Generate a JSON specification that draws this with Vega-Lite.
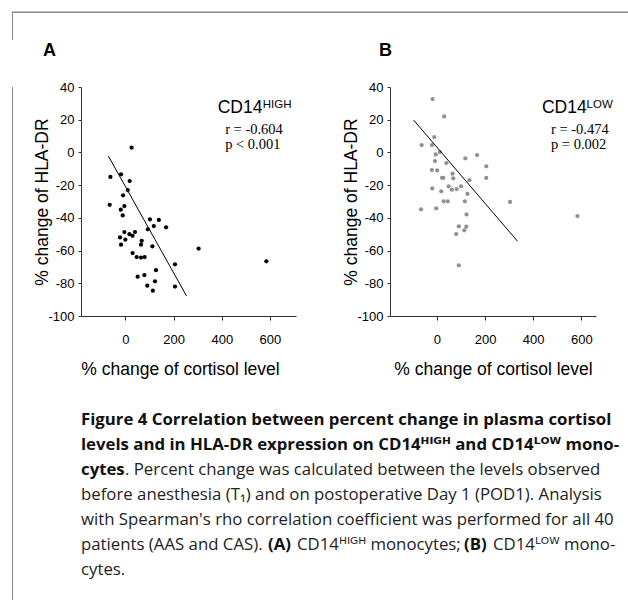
{
  "$schema": "https://vega.github.io/schema/vega-lite/v6.json",
  "background": "white",
  "padding": {"left": 9, "top": 11, "right": 0, "bottom": 0},
  "config": {
    "view": {"stroke": null},
    "font": "Liberation Sans",
    "axis": {
      "grid": false,
      "domainColor": "#333333",
      "tickColor": "#333333",
      "labelColor": "#000000",
      "titleColor": "#000000",
      "labelFont": "Liberation Sans",
      "titleFont": "Liberation Sans",
      "labelFontSize": 13,
      "titleFontSize": 17.5,
      "titleFontWeight": "normal",
      "labelOverlap": false,
      "labelExpr": "'' + datum.value"
    },
    "axisX": {"tickSize": 4, "labelPadding": 13, "titlePadding": 14},
    "axisY": {"tickSize": 3, "labelPadding": 4, "titlePadding": -4, "tickCount": 8, "labelOverlap": false},
    "title": {"font": "Liberation Sans", "fontSize": 18, "fontWeight": "bold", "anchor": "start", "color": "#000000", "offset": 21}
  },
  "datasets": {
    "high": [
      {"cortisol": 26, "hladr": 3}, {"cortisol": -62, "hladr": -15}, {"cortisol": -18, "hladr": -13.4},
      {"cortisol": 18, "hladr": -17.5}, {"cortisol": 10, "hladr": -23}, {"cortisol": -9.5, "hladr": -26.2},
      {"cortisol": -65, "hladr": -32}, {"cortisol": -4, "hladr": -32.8}, {"cortisol": -19, "hladr": -35},
      {"cortisol": -11, "hladr": -38.5}, {"cortisol": 102, "hladr": -41}, {"cortisol": 139, "hladr": -41.3},
      {"cortisol": 118, "hladr": -45}, {"cortisol": 169, "hladr": -45.8}, {"cortisol": 93, "hladr": -47},
      {"cortisol": -4, "hladr": -48.7}, {"cortisol": 40, "hladr": -48.7}, {"cortisol": 17, "hladr": -50},
      {"cortisol": 30, "hladr": -51}, {"cortisol": -22, "hladr": -52}, {"cortisol": 0, "hladr": -53.3},
      {"cortisol": -18, "hladr": -56.4}, {"cortisol": 68, "hladr": -54}, {"cortisol": 65, "hladr": -56.4},
      {"cortisol": 112, "hladr": -57.4}, {"cortisol": 304, "hladr": -58.8}, {"cortisol": 30, "hladr": -61.5},
      {"cortisol": 47, "hladr": -64}, {"cortisol": 65, "hladr": -64.3}, {"cortisol": 80, "hladr": -64},
      {"cortisol": 206, "hladr": -68.4}, {"cortisol": 127, "hladr": -72}, {"cortisol": 585, "hladr": -66.6},
      {"cortisol": 79, "hladr": -75}, {"cortisol": 51, "hladr": -76}, {"cortisol": 123, "hladr": -78.8},
      {"cortisol": 91, "hladr": -81.5}, {"cortisol": 206, "hladr": -82}, {"cortisol": 114, "hladr": -84.5}
    ],
    "low": [
      {"cortisol": -18, "hladr": 32.6}, {"cortisol": 30, "hladr": 22}, {"cortisol": -11, "hladr": 9.4},
      {"cortisol": -63.5, "hladr": 4.5}, {"cortisol": -21, "hladr": 4.5}, {"cortisol": -5, "hladr": -1.2},
      {"cortisol": 12, "hladr": 0.2}, {"cortisol": -8, "hladr": -5.3}, {"cortisol": 39, "hladr": -6.5},
      {"cortisol": 118, "hladr": -3.6}, {"cortisol": 167, "hladr": -1.6}, {"cortisol": 205, "hladr": -8.5},
      {"cortisol": -21, "hladr": -10.8}, {"cortisol": 1, "hladr": -11}, {"cortisol": 65, "hladr": -13},
      {"cortisol": 21, "hladr": -15.5}, {"cortisol": 27, "hladr": -15.5}, {"cortisol": 68, "hladr": -15.8},
      {"cortisol": 205, "hladr": -15.6}, {"cortisol": 135, "hladr": -17}, {"cortisol": 100, "hladr": -20.7},
      {"cortisol": 48.5, "hladr": -20.7}, {"cortisol": 62, "hladr": -22.8}, {"cortisol": 82, "hladr": -22.4},
      {"cortisol": -19.5, "hladr": -22}, {"cortisol": 18, "hladr": -23.8}, {"cortisol": 127, "hladr": -25.4},
      {"cortisol": 304, "hladr": -30.3}, {"cortisol": 28, "hladr": -29.9}, {"cortisol": 45, "hladr": -29.9},
      {"cortisol": 116, "hladr": -29.9}, {"cortisol": -66, "hladr": -34.8}, {"cortisol": -3, "hladr": -34.2},
      {"cortisol": 123, "hladr": -37.9}, {"cortisol": 584, "hladr": -38.9}, {"cortisol": 91, "hladr": -45.2},
      {"cortisol": 122, "hladr": -45.4}, {"cortisol": 114, "hladr": -47.6}, {"cortisol": 80, "hladr": -49.9},
      {"cortisol": 91, "hladr": -69}
    ],
    "fitHigh": [{"cortisol": -70.5, "hladr": -2.2}, {"cortisol": 254, "hladr": -87.8}],
    "fitLow": [{"cortisol": -97, "hladr": 19.8}, {"cortisol": 335, "hladr": -54.3}],
    "stats": [
      {"panel": "A", "subset": "CD14", "level": "HIGH", "r": "r = -0.604", "p": "p < 0.001"},
      {"panel": "B", "subset": "CD14", "level": "LOW", "r": "r = -0.474", "p": "p = 0.002"}
    ],
    "caption": [
      {"line": 1, "seg": "b0", "text": "Figure 4 Correlation between percent change in plasma cortisol"},
      {"line": 2, "seg": "b0", "text": "levels and in HLA-DR expression on CD14ᴴᴵᴳᴴ and CD14ᴸᴼᵂ mono-"},
      {"line": 3, "seg": "b0", "text": "cytes"},
      {"line": 3, "seg": "n3", "text": ". Percent change was calculated between the levels observed"},
      {"line": 4, "seg": "n0", "text": "before anesthesia (T₁) and on postoperative Day 1 (POD1). Analysis"},
      {"line": 5, "seg": "n0", "text": "with Spearman's rho correlation coefficient was performed for all 40"},
      {"line": 6, "seg": "n0", "text": "patients (AAS and CAS)."},
      {"line": 6, "seg": "bA", "text": "(A)"},
      {"line": 6, "seg": "nA", "text": "CD14ᴴᴵᴳᴴ monocytes;"},
      {"line": 6, "seg": "bB", "text": "(B)"},
      {"line": 6, "seg": "nB", "text": "CD14ᴸᴼᵂ mono-"},
      {"line": 7, "seg": "n0", "text": "cytes."}
    ]
  },
  "spacing": 0,
  "vconcat": [
    {
      "hconcat": [
        {
          "width": 617,
          "height": 27,
          "data": {"values": [{}]},
          "layer": [
            {
              "mark": {"type": "point", "opacity": 0},
              "encoding": {
                "x": {"datum": 0, "type": "quantitative", "scale": {"domain": [0, 1], "range": [0, 617]},
                      "axis": {"orient": "top", "domainColor": "#8a8a8a", "domainCap": "square", "ticks": false, "labels": false, "title": null, "minExtent": 0}},
                "y": {"datum": 0, "type": "quantitative", "scale": {"domain": [0, 1], "range": [27, 0]},
                      "axis": {"orient": "left", "domainColor": "#8a8a8a", "domainCap": "square", "ticks": false, "labels": false, "title": null, "minExtent": 0}}
              }
            },
            {
              "mark": {"type": "rule", "color": "#8a8a8a", "strokeWidth": 1},
              "encoding": {
                "x": {"value": 0},
                "x2": {"value": "width"},
                "y": {"value": 0}
              }
            }
          ]
        }
      ]
    },
    {
      "spacing": 18,
      "hconcat": [
        {
          "width": 1,
          "height": 561,
          "data": {"values": [{}]},
          "mark": {"type": "point", "opacity": 0},
          "encoding": {
            "x": {"datum": 0, "type": "quantitative", "scale": {"domain": [0, 1]}, "axis": null},
            "y": {"datum": 0, "type": "quantitative", "scale": {"domain": [0, 1]},
                  "axis": {"orient": "left", "domainColor": "#8a8a8a", "domainCap": "square", "ticks": false, "labels": false, "title": null, "minExtent": 0}}
          }
        },
        {
          "spacing": 34,
          "vconcat": [
            {
              "spacing": 46,
              "hconcat": [
                {
                  "width": 215,
                  "height": 229,
                  "title": {"text": "A", "dx": 9},
                  "layer": [
                    {
                      "data": {"name": "high"},
                      "mark": {"type": "circle", "size": 18, "color": "#000000", "opacity": 1},
                      "encoding": {
                        "x": {"field": "cortisol", "type": "quantitative",
                              "scale": {"domain": [-184, 708], "nice": false, "zero": false},
                              "axis": {"values": [0, 200, 400, 600], "title": "% change of cortisol level", "titleX": 99, "labelOverlap": false}},
                        "y": {"field": "hladr", "type": "quantitative",
                              "scale": {"domain": [-100, 40], "nice": false, "zero": false},
                              "axis": {"values": [-100, -80, -60, -40, -20, 0, 20, 40], "title": "% change of HLA-DR", "labelOverlap": false}}
                      }
                    },
                    {
                      "data": {"name": "fitHigh"},
                      "mark": {"type": "line", "color": "#000000", "strokeWidth": 1},
                      "encoding": {
                        "x": {"field": "cortisol", "type": "quantitative"},
                        "y": {"field": "hladr", "type": "quantitative", "axis": {"values": [-100, -80, -60, -40, -20, 0, 20, 40], "title": "% change of HLA-DR", "labelOverlap": false}}
                      }
                    },
                    {
                      "data": {"name": "stats"},
                      "transform": [{"filter": "datum.panel === 'A'"}],
                      "layer": [
                        {"mark": {"type": "text", "align": "left", "baseline": "alphabetic", "fontSize": 17.5, "font": "Liberation Sans", "color": "#000000"},
                         "encoding": {"x": {"datum": 383}, "y": {"datum": 24, "axis": {"values": [-100, -80, -60, -40, -20, 0, 20, 40], "title": "% change of HLA-DR", "labelOverlap": false}}, "text": {"field": "subset"}}},
                        {"mark": {"type": "text", "align": "left", "baseline": "alphabetic", "fontSize": 11.5, "font": "Liberation Sans", "color": "#000000"},
                         "encoding": {"x": {"datum": 570}, "y": {"datum": 27, "axis": {"values": [-100, -80, -60, -40, -20, 0, 20, 40], "title": "% change of HLA-DR", "labelOverlap": false}}, "text": {"field": "level"}}},
                        {"mark": {"type": "text", "align": "left", "baseline": "alphabetic", "fontSize": 14.5, "font": "Liberation Serif", "color": "#000000"},
                         "encoding": {"x": {"datum": 414}, "y": {"datum": 11.2, "axis": {"values": [-100, -80, -60, -40, -20, 0, 20, 40], "title": "% change of HLA-DR", "labelOverlap": false}}, "text": {"field": "r"}}},
                        {"mark": {"type": "text", "align": "left", "baseline": "alphabetic", "fontSize": 14.5, "font": "Liberation Serif", "color": "#000000"},
                         "encoding": {"x": {"datum": 414}, "y": {"datum": 2, "axis": {"values": [-100, -80, -60, -40, -20, 0, 20, 40], "title": "% change of HLA-DR", "labelOverlap": false}}, "text": {"field": "p"}}}
                      ]
                    }
                  ]
                },
                {
                  "width": 206,
                  "height": 229,
                  "title": {"text": "B", "dx": 36},
                  "layer": [
                    {
                      "data": {"name": "low"},
                      "mark": {"type": "circle", "size": 18, "color": "#919191", "opacity": 1},
                      "encoding": {
                        "x": {"field": "cortisol", "type": "quantitative",
                              "scale": {"domain": [-195, 661], "nice": false, "zero": false},
                              "axis": {"values": [0, 200, 400, 600], "title": "% change of cortisol level", "labelOverlap": false}},
                        "y": {"field": "hladr", "type": "quantitative",
                              "scale": {"domain": [-100, 40], "nice": false, "zero": false},
                              "axis": {"values": [-100, -80, -60, -40, -20, 0, 20, 40], "title": "% change of HLA-DR", "labelOverlap": false}}
                      }
                    },
                    {
                      "data": {"name": "fitLow"},
                      "mark": {"type": "line", "color": "#000000", "strokeWidth": 1},
                      "encoding": {
                        "x": {"field": "cortisol", "type": "quantitative"},
                        "y": {"field": "hladr", "type": "quantitative", "axis": {"values": [-100, -80, -60, -40, -20, 0, 20, 40], "title": "% change of HLA-DR", "labelOverlap": false}}
                      }
                    },
                    {
                      "data": {"name": "stats"},
                      "transform": [{"filter": "datum.panel === 'B'"}],
                      "layer": [
                        {"mark": {"type": "text", "align": "left", "baseline": "alphabetic", "fontSize": 17.5, "font": "Liberation Sans", "color": "#000000"},
                         "encoding": {"x": {"datum": 436.5}, "y": {"datum": 24, "axis": {"values": [-100, -80, -60, -40, -20, 0, 20, 40], "title": "% change of HLA-DR", "labelOverlap": false}}, "text": {"field": "subset"}}},
                        {"mark": {"type": "text", "align": "left", "baseline": "alphabetic", "fontSize": 11.5, "font": "Liberation Sans", "color": "#000000"},
                         "encoding": {"x": {"datum": 622}, "y": {"datum": 27, "axis": {"values": [-100, -80, -60, -40, -20, 0, 20, 40], "title": "% change of HLA-DR", "labelOverlap": false}}, "text": {"field": "level"}}},
                        {"mark": {"type": "text", "align": "left", "baseline": "alphabetic", "fontSize": 14.5, "font": "Liberation Serif", "color": "#000000"},
                         "encoding": {"x": {"datum": 474}, "y": {"datum": 11.2, "axis": {"values": [-100, -80, -60, -40, -20, 0, 20, 40], "title": "% change of HLA-DR", "labelOverlap": false}}, "text": {"field": "r"}}},
                        {"mark": {"type": "text", "align": "left", "baseline": "alphabetic", "fontSize": 14.5, "font": "Liberation Serif", "color": "#000000"},
                         "encoding": {"x": {"datum": 474}, "y": {"datum": 2, "axis": {"values": [-100, -80, -60, -40, -20, 0, 20, 40], "title": "% change of HLA-DR", "labelOverlap": false}}, "text": {"field": "p"}}}
                      ]
                    }
                  ]
                }
              ]
            },
            {
              "width": 580,
              "height": 150,
              "data": {"name": "caption"},
              "encoding": {
                "y": {"field": "line", "type": "ordinal", "axis": null, "scale": {"type": "point", "padding": 0}},
                "x": {"value": 0},
                "text": {"field": "text"}
              },
              "layer": [
                {"transform": [{"filter": "datum.seg === 'b0'"}],
                 "mark": {"type": "text", "align": "left", "baseline": "alphabetic", "font": "Open Sans, DejaVu Sans, sans-serif", "fontSize": 16.8, "fontWeight": "bold", "color": "#111111"}},
                {"transform": [{"filter": "datum.seg === 'n0'"}],
                 "mark": {"type": "text", "align": "left", "baseline": "alphabetic", "font": "Open Sans, DejaVu Sans, sans-serif", "fontSize": 16.8, "color": "#222222"}},
                {"transform": [{"filter": "datum.seg === 'n3'"}],
                 "mark": {"type": "text", "align": "left", "baseline": "alphabetic", "font": "Open Sans, DejaVu Sans, sans-serif", "fontSize": 16.8, "color": "#222222", "dx": 44}},
                {"transform": [{"filter": "datum.seg === 'bA'"}],
                 "mark": {"type": "text", "align": "left", "baseline": "alphabetic", "font": "Open Sans, DejaVu Sans, sans-serif", "fontSize": 16.8, "fontWeight": "bold", "color": "#111111", "dx": 187}},
                {"transform": [{"filter": "datum.seg === 'nA'"}],
                 "mark": {"type": "text", "align": "left", "baseline": "alphabetic", "font": "Open Sans, DejaVu Sans, sans-serif", "fontSize": 16.8, "color": "#222222", "dx": 216}},
                {"transform": [{"filter": "datum.seg === 'bB'"}],
                 "mark": {"type": "text", "align": "left", "baseline": "alphabetic", "font": "Open Sans, DejaVu Sans, sans-serif", "fontSize": 16.8, "fontWeight": "bold", "color": "#111111", "dx": 383}},
                {"transform": [{"filter": "datum.seg === 'nB'"}],
                 "mark": {"type": "text", "align": "left", "baseline": "alphabetic", "font": "Open Sans, DejaVu Sans, sans-serif", "fontSize": 16.8, "color": "#222222", "dx": 412}}
              ]
            }
          ]
        }
      ]
    }
  ]
}
